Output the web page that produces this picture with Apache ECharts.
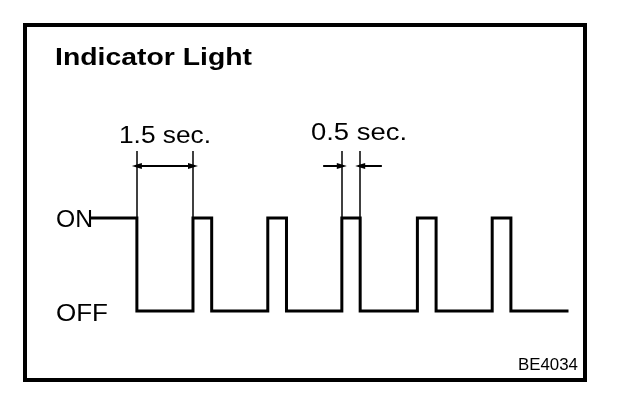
<!DOCTYPE html>
<html>
<head>
<meta charset="utf-8">
<style>
html,body{margin:0;padding:0;background:#fff;}
#chart{width:624px;height:402px;}
</style>
<script src="https://cdn.jsdelivr.net/npm/echarts@6/dist/echarts.min.js"></script>
</head>
<body>
<div id="chart"></div>
<script>
// ---- data ----
var title = 'Indicator Light';
var figureCode = 'BE4034';
var levelLabels = ['OFF', 'ON'];           // level 0, level 1
// transition times (s) and level after each transition
var times  = [0, 1.2, 2.7, 3.2, 4.7, 5.2, 6.68, 7.17, 8.7, 9.2, 10.7, 11.2, 12.7];
var levels = [1, 0,   1,   0,   1,   0,   1,    0,    1,   0,   1,    0,    0];
// dimension annotations
var longDim  = {label: '1.5 sec.', from: 1.2,  to: 2.7};
var shortDim = {label: '0.5 sec.', from: 6.68, to: 7.17};

var chart = echarts.init(document.getElementById('chart'), null, {renderer: 'canvas'});

var ctx = document.createElement('canvas').getContext('2d');
function fitText(text, x, cy, size, weight, targetW) {
  var font = weight + ' ' + size + 'px "Liberation Sans", Arial, sans-serif';
  ctx.font = font;
  var w = ctx.measureText(text).width;
  return {
    type: 'text', x: x, y: cy, scaleX: targetW / w, originX: 0, originY: 0,
    style: {text: text, x: 0, y: 0, font: font, fill: '#000',
            textAlign: 'left', textVerticalAlign: 'middle'}
  };
}

var waveData = times.map(function (t, i) { return [t, levels[i]]; });

var extTop = 1.72, arrowY = 1.56;
var arrowStyle = {color: '#000', width: 2, type: 'solid'};
var head = [6, 10];
function ext(t) {
  return [{coord: [t, extTop], symbol: 'none'}, {coord: [t, 1], symbol: 'none'}];
}
var markData = [
  ext(longDim.from), ext(longDim.to), ext(shortDim.from), ext(shortDim.to),
  [{coord: [longDim.from, arrowY], symbol: 'triangle', symbolSize: head, lineStyle: arrowStyle},
   {coord: [longDim.to, arrowY], symbol: 'triangle', symbolSize: head}],
  [{coord: [shortDim.from - 0.5, arrowY], symbol: 'none', lineStyle: arrowStyle},
   {coord: [shortDim.from, arrowY], symbol: 'triangle', symbolSize: head}],
  [{coord: [shortDim.to + 0.58, arrowY], symbol: 'none', lineStyle: arrowStyle},
   {coord: [shortDim.to, arrowY], symbol: 'triangle', symbolSize: head}]
];

chart.setOption({
  animation: false,
  backgroundColor: '#fff',
  grid: {left: 92, top: 125, width: 475, height: 186},
  xAxis: {type: 'value', min: 0, max: 12.7, show: false},
  yAxis: {type: 'value', min: 0, max: 2, show: false},
  series: [{
    type: 'line',
    data: waveData,
    step: 'end',
    symbol: 'none',
    clip: false,
    lineStyle: {color: '#000', width: 3, join: 'miter', cap: 'square'},
    markLine: {
      silent: true,
      animation: false,
      symbol: ['none', 'none'],
      label: {show: false},
      lineStyle: {color: '#000', width: 1.5, type: 'solid'},
      emphasis: {disabled: true},
      data: markData
    }
  }],
  graphic: [
    {type: 'rect', shape: {x: 25, y: 25, width: 560, height: 355},
     style: {fill: 'none', stroke: '#000', lineWidth: 4}},
    fitText(title, 55, 58.5, 24, 'bold', 197),
    fitText(longDim.label, 119, 137, 23, 'normal', 92),
    fitText(shortDim.label, 311, 134, 23, 'normal', 96),
    fitText(levelLabels[1], 56, 220.5, 23, 'normal', 37),
    fitText(levelLabels[0], 56, 315, 23, 'normal', 52),
    fitText(figureCode, 518, 365.5, 17, 'normal', 60)
  ]
});
</script>
</body>
</html>
